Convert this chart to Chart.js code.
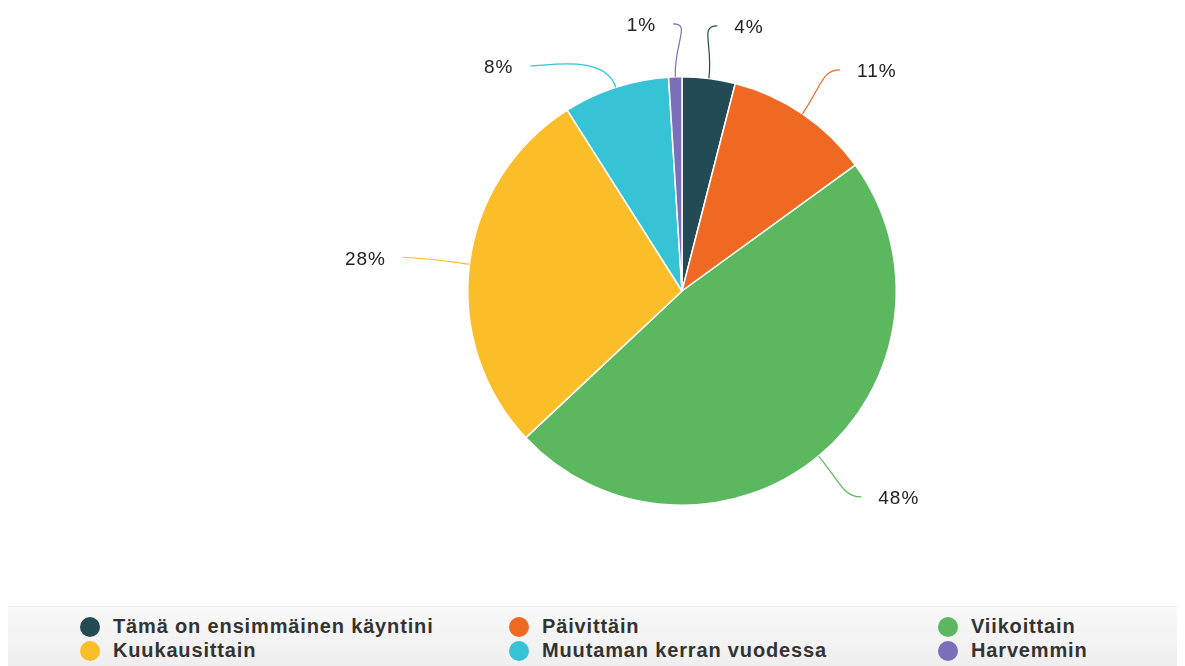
<!DOCTYPE html>
<html lang="fi">
<head>
  <meta charset="UTF-8" />
  <title>Käyntitiheys</title>
  <script src="https://cdn.jsdelivr.net/npm/chart.js"></script>
  <style>
    body {
      margin: 0;
      background: #fff;
      font-family: 'Liberation Sans', Arial, sans-serif;
      width: 1185px;
      height: 666px;
      overflow: hidden;
      position: relative;
    }
    .kaavio {
      position: absolute;
      left: 0;
      top: 0;
      width: 1185px;
      height: 590px;
    }
    .selite {
      position: absolute;
      left: 8px;
      top: 606px;
      width: 1169px;
      height: 60px;
      background: linear-gradient(#f9f9f9, #eeeeee);
      border-top: 1px solid #ececec;
    }
    .selite-rivi {
      position: absolute;
      display: flex;
      align-items: center;
      font-weight: bold;
      font-size: 20px;
      line-height: 23px;
      letter-spacing: 0.85px;
      color: #333;
      white-space: nowrap;
    }
    .selite-rivi span.pallo {
      display: inline-block;
      width: 20px;
      height: 20px;
      border-radius: 50%;
      margin-right: 13px;
    }
  </style>
</head>
<body>

<div class="kaavio"><canvas id="piirakka"></canvas></div>
<div class="selite" id="selite"></div>

<script>
  const kategoriat = [
    'Tämä on ensimmäinen käyntini',
    'Päivittäin',
    'Viikoittain',
    'Kuukausittain',
    'Muutaman kerran vuodessa',
    'Harvemmin'
  ];
  const osuudet = [4, 11, 48, 28, 8, 1];
  const varit = ['#234b55', '#f06923', '#5cb85f', '#fbbe28', '#35c3d5', '#7b6fb9'];

  // selite: kolme saraketta, kaksi riviä
  const selite = document.getElementById('selite');
  const sarakkeetX = [72, 501, 930];
  const rivitY = [8, 32];
  kategoriat.forEach((nimi, i) => {
    const el = document.createElement('div');
    el.className = 'selite-rivi';
    el.style.left = sarakkeetX[i % 3] + 'px';
    el.style.top = rivitY[Math.floor(i / 3)] + 'px';
    el.innerHTML = `<span class="pallo" style="background:${varit[i]}"></span>${nimi}`;
    selite.appendChild(el);
  });

  // prosenttimerkinnät kaarevilla viivoilla (merkinnät ellipsin kehällä)
  const merkinnat = {
    id: 'merkinnat',
    afterDraw(chart) {
      const ctx = chart.ctx;
      const arcs = chart.getDatasetMeta(0).data;
      const Rx = arcs[0].outerRadius + 67;
      const Ry = arcs[0].outerRadius + 53;
      const cx = arcs[0].x, cy = arcs[0].y;
      const kohdat = arcs.map((arc, i) => {
        const a = (arc.startAngle + arc.endAngle) / 2;
        return {
          i, a,
          ex: cx + Math.cos(a) * arc.outerRadius,
          ey: cy + Math.sin(a) * arc.outerRadius,
          puoli: Math.cos(a) >= 0 ? 1 : -1,
          x: cx + Math.cos(a) * Rx,
          y: cy + Math.sin(a) * Ry
        };
      });
      // estä päällekkäisyys kummallakin puolella
      [1, -1].forEach(p => {
        const ryhma = kohdat.filter(k => k.puoli === p).sort((a, b) => a.y - b.y);
        let ed = -Infinity;
        ryhma.forEach(k => {
          if (k.y < ed) {
            k.y = ed;
            const dy = (k.y - cy) / Ry;
            k.x = cx + p * Rx * Math.sqrt(Math.max(1 - dy * dy, 0));
          }
          ed = k.y + 42;
        });
      });
      ctx.save();
      ctx.font = '19px "Liberation Sans", Arial, sans-serif';
      ctx.letterSpacing = '1px';
      ctx.textBaseline = 'middle';
      kohdat.forEach(k => {
        const ux = Math.cos(k.a), uy = Math.sin(k.a);
        ctx.strokeStyle = varit[k.i];
        ctx.lineWidth = 1.2;
        ctx.beginPath();
        ctx.moveTo(k.ex, k.ey);
        ctx.bezierCurveTo(k.ex + ux * 35, k.ey + uy * 35, k.x - k.puoli * 18, k.y, k.x, k.y);
        ctx.stroke();
        ctx.fillStyle = '#222';
        ctx.textAlign = k.puoli > 0 ? 'left' : 'right';
        ctx.fillText(osuudet[k.i] + '%', k.x + k.puoli * 17, k.y + 2);
      });
      ctx.restore();
    }
  };

  new Chart(document.getElementById('piirakka').getContext('2d'), {
    type: 'pie',
    data: {
      labels: kategoriat,
      datasets: [{
        data: osuudet,
        backgroundColor: varit,
        borderColor: '#fff',
        borderWidth: 1.5
      }]
    },
    options: {
      responsive: true,
      maintainAspectRatio: false,
      animation: false,
      layout: { padding: { top: 76, bottom: 84, left: 467, right: 288 } },
      plugins: {
        legend: { display: false },
        tooltip: { enabled: false }
      }
    },
    plugins: [merkinnat]
  });
</script>

</body>
</html>
